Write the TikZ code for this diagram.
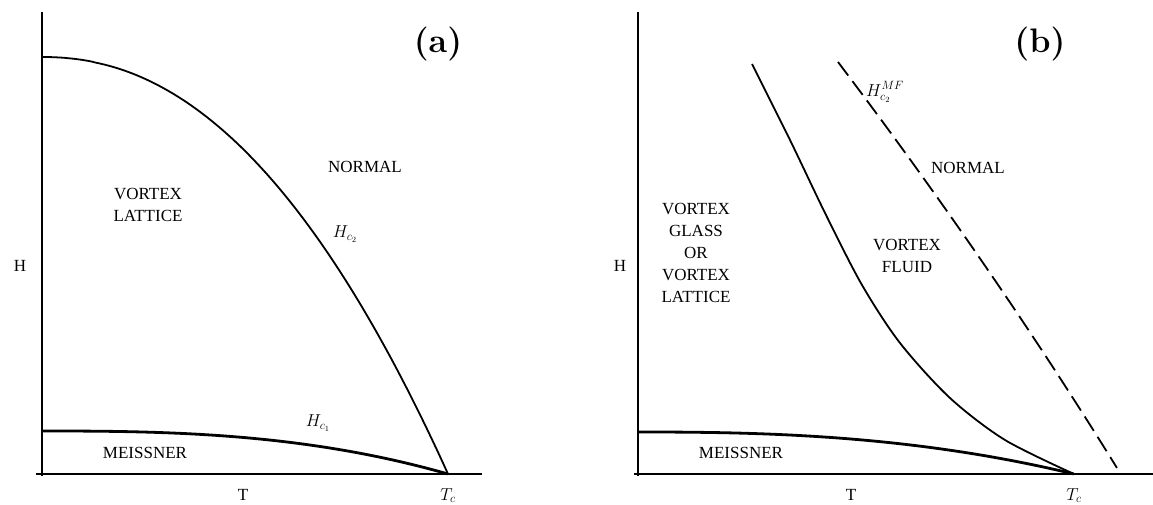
\documentclass[tikz,border=0pt]{standalone}
\usepackage{amsmath}
\usepackage{fontspec}
\setmainfont{Liberation Serif}
\newfontfamily\tagfont{Latin Modern Roman}
\usepackage{tikz}
\usetikzlibrary{positioning}

\begin{document}
\begin{tikzpicture}[x=1pt, y=-1pt, every node/.style={font=\fontsize{17}{22}\selectfont, inner sep=0pt},
  lbl/.style={align=center},
  tag/.style={font=\fontsize{34}{40}\selectfont\tagfont\bfseries},
  ax/.style={line width=2.4pt},
  crv/.style={line width=1.8pt, line join=round},
  hcone/.style={line width=2.8pt},
  mf/.style={line width=1.8pt, dash pattern=on 17pt off 7pt}]
\useasboundingbox (0,0) rectangle (1153,504);
% (a)
\coordinate (ya) at (42,12); \coordinate (oa) at (42,476);
\coordinate (xa0) at (36,474); \coordinate (xa) at (482,474);
\coordinate (tca) at (448,474);
\draw[ax] (ya) -- (oa); \draw[ax] (xa0) -- (xa);
\draw[crv] (42,57) -- plot[domain=0.01:1, samples=90] ({42+406*\x},{474-417*(1-pow(\x,2.15))});
\draw[hcone] plot[domain=0:1, samples=60] ({42+406*\x},{474-43*(1-pow(\x,2.7))});
\node[tag] (taga) at (438,44) {(a)};
\node[lbl] (norma) at (365,167) {NORMAL};
\node[lbl] (vla) at (148,205) {VORTEX\\LATTICE};
\node (hctwoa) at (345,234) {$H_{c_2}$};
\node (hconea) at (318,423) {$H_{c_1}$};
\node[lbl] (meia) at (145,453) {MEISSNER};
\node (ta) at (243,495) {T};
\node[below=14pt of tca] (tclaba) {$T_c$};
\node (ha) at (20,266) {H};
% (b)
\coordinate (yb) at (638,12); \coordinate (ob) at (638,476);
\coordinate (xb0) at (634,474); \coordinate (xb) at (1153,474);
\coordinate (tcb) at (1074,474);
\draw[ax] (yb) -- (ob); \draw[ax] (xb0) -- (xb);
\draw[hcone] plot[domain=0:1, samples=60] ({638+436*\x},{474-42*(1-pow(\x,2.5))});
\draw[crv] plot[smooth] coordinates {(752,64) (790,140) (826,215) (862,285) (900,343) (950,398) (1005,440) (1074,474)};
\draw[mf] plot[domain=0:1, samples=40] ({838+279*(1.1*\x-0.1*\x*\x)},{62+406*\x});
\coordinate (mfl) at (860,92);
\node[tag] (tagb) at (1040,44) {(b)};
\node[lbl] (normb) at (968,168) {NORMAL};
\node[right=6pt of mfl] (hcmf) {$H_{c_2}^{MF}$};
\node[lbl] (vf) at (907,256) {VORTEX\\FLUID};
\node[lbl] (vg) at (696,253) {VORTEX\\GLASS\\OR\\VORTEX\\LATTICE};
\node[lbl] (meib) at (741,453) {MEISSNER};
\node (tb) at (851,495) {T};
\node[below=14pt of tcb] (tclabb) {$T_c$};
\node (hb) at (620,266) {H};
\end{tikzpicture}
\end{document}
